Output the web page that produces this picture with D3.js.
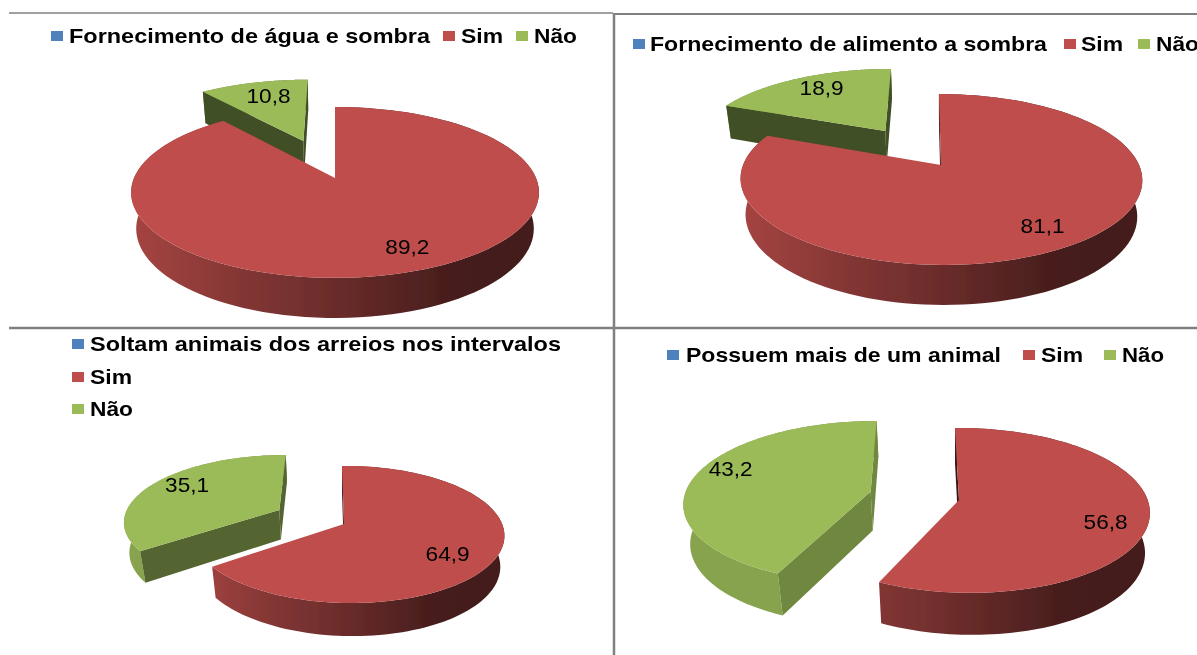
<!DOCTYPE html>
<html>
<head>
<meta charset="utf-8">
<script src="https://cdn.jsdelivr.net/npm/d3@7"></script>
<style>
  html, body { margin: 0; background: #fff; overflow: hidden; }
  text { font-family: "Liberation Sans", Arial, sans-serif; fill: #000; }
</style>
</head>
<body>
<svg id="chart"></svg>
<script>
'use strict';
// Values
var categories = ['Sim', 'Não'];
var titles = [
  'Fornecimento de água e sombra',
  'Fornecimento de alimento a sombra',
  'Soltam animais dos arreios nos intervalos',
  'Possuem mais de um animal'
];
var simValues = [89.2, 81.1, 64.9, 56.8];
var naoValues = [10.8, 18.9, 35.1, 43.2];

var blue = '#4f81bd';
var sliceColors = ['#be4e4c', '#9bbb59'];

// Perspective setup of each pie: apex, radii, vanishing terms, wall depth.
// greenH is the sideways vanishing term for the pulled out slice.
var pies = [
  { x0: 335, y0: 178, a: 201, b: 83, k: 0.169, h: 0, greenH: 0, s: 0, d: 36.8, explode: 0.51, cut: 0.42,
    nudge: [[11, -3], [6, 2]] },
  { x0: 941, y0: 165, a: 198, b: 83, k: 0.169, h: 0, greenH: 0, s: -2.4, d: 36.8, explode: 0.53, cut: 0.42,
    nudge: [[0, -2], [7, 0]] },
  { x0: 344, y0: 524, a: 154, b: 66.9, k: 0.153, h: -0.026, greenH: 0.012, s: -2.3, d: 30.8, explode: 0.48, cut: 0.54,
    nudge: [[-16, 3], [8, -4]] },
  { x0: 959, y0: 500, a: 183, b: 81, k: 0.127, h: -0.03, greenH: 0.012, s: -4.5, d: 40, explode: 0.495, cut: 0.72,
    nudge: [[-4, 7], [0, -10]] }
];

// Legend layout: [swatch x, text x, text width, text y] for title, Sim, Não
var legends = [
  [[51, 69, 361, 36], [443, 461, 42, 36], [516, 534, 43, 36]],
  [[633, 650, 397, 44], [1064, 1081, 42, 44], [1138, 1156, 43, 44]],
  [[72, 90, 471, 344], [72, 90, 42, 377], [72, 90, 43, 409]],
  [[667, 686, 315, 355], [1023, 1041, 42, 355], [1104, 1122, 42, 355]]
];

var canvasWidth = 1197;
var canvasHeight = 655;
var swatchSize = 11;
var labelRadius = 0.8;
var shrink = 0.025;

var svg = d3.select('#chart')
  .attr('width', canvasWidth)
  .attr('height', canvasHeight);
var defs = svg.append('defs');
defs.append('filter').attr('id', 'soft')
  .attr('x', 0).attr('y', 0).attr('width', 1).attr('height', 1)
  .append('feGaussianBlur').attr('stdDeviation', 0.45);

var root = svg.append('g').attr('filter', 'url(#soft)');
root.append('rect')
  .attr('width', canvasWidth).attr('height', canvasHeight).attr('fill', '#fff');

// Panel borders
var borderColor = '#808080';
[[9, 13, 613, 13, 1.5], [613, 14, canvasWidth, 14, 2], [9, 328, canvasWidth, 328, 2.5], [614, 13, 614, canvasHeight, 2.5]]
  .forEach(function(b) {
    root.append('line')
      .attr('x1', b[0]).attr('y1', b[1]).attr('x2', b[2]).attr('y2', b[3])
      .attr('stroke', borderColor).attr('stroke-width', b[4]);
  });

function shade(color, f) {
  var c = d3.rgb(color);
  return d3.rgb(c.r * f, c.g * f, c.b * f).formatHex();
}

// u, v on the pie plane (unit radius), z = 1 at the bottom of the wall
function project(p, h, u, v, z) {
  var w = 1 + p.k * v + h * u + shrink * z;
  return [p.x0 + (p.a * u + p.s * v) / w, p.y0 + (-p.b * v + p.d * z) / w];
}

var pieLayout = d3.pie().sort(null).value(function(d) { return d; });
var linePath = d3.line();

function drawPie(p, i) {
  var arcs = pieLayout([simValues[i], naoValues[i]]);
  // Green first: the red slice sits in front of its wall
  d3.range(arcs.length - 1, -1, -1).forEach(function(j) {
    var slice = arcs[j];
    var color = sliceColors[j];
    var mid = (slice.startAngle + slice.endAngle) / 2;
    var ou = j === 1 ? p.explode * Math.sin(mid) : 0;
    var ov = j === 1 ? p.explode * Math.cos(mid) : 0;
    var h = j === 1 ? p.greenH : p.h;

    function pt(r, angle, z) {
      return project(p, h, ou + r * Math.sin(angle), ov + r * Math.cos(angle), z);
    }
    var steps = d3.range(0, 121).map(function(t) {
      return slice.startAngle + (slice.endAngle - slice.startAngle) * t / 120;
    });

    // Outer wall, shaded left to right across the whole pie
    var gradId = 'wall' + i + '-' + j;
    var grad = defs.append('linearGradient').attr('id', gradId)
      .attr('gradientUnits', 'userSpaceOnUse')
      .attr('x1', p.x0 - p.a).attr('x2', p.x0 + p.a).attr('y1', 0).attr('y2', 0);
    [[0, 0.87], [0.25, 0.7], [0.5, 0.56], [0.8, 0.37], [1, 0.36]].forEach(function(s) {
      grad.append('stop').attr('offset', s[0]).attr('stop-color', shade(color, s[1]));
    });
    var wallPts = steps.map(function(a) { return pt(1, a, 0); })
      .concat(steps.slice().reverse().map(function(a) { return pt(1, a, 1); }));
    root.append('path').attr('d', linePath(wallPts) + 'Z').attr('fill', 'url(#' + gradId + ')');

    // Cut faces, only where they turn towards the viewer
    // (d3.polygonArea is positive for a clockwise ring on screen)
    [[slice.startAngle, 1], [slice.endAngle, -1]].forEach(function(face) {
      var quad = [pt(0, 0, 0), pt(1, face[0], 0), pt(1, face[0], 1), pt(0, 0, 1)];
      if (d3.polygonArea(quad) * face[1] > 0) {
        root.append('path').attr('d', linePath(quad) + 'Z')
          .attr('fill', shade(color, j === 1 ? p.cut : 0.3));
      }
    });

    // Top face
    var topPts = [pt(0, 0, 0)].concat(steps.map(function(a) { return pt(1, a, 0); }));
    root.append('path').attr('d', linePath(topPts) + 'Z').attr('fill', color);

    slice.labelPos = pt(labelRadius, mid, 0);
  });

  // Data labels go last, above every face
  arcs.forEach(function(slice, j) {
    root.append('text')
      .attr('x', slice.labelPos[0] + p.nudge[j][0]).attr('y', slice.labelPos[1] + p.nudge[j][1])
      .attr('dy', '0.36em')
      .attr('text-anchor', 'middle')
      .attr('font-size', 21)
      .attr('textLength', 44)
      .attr('lengthAdjust', 'spacingAndGlyphs')
      .text(String(slice.value).replace('.', ','));
  });
}

function drawLegend(layout, i) {
  var names = [titles[i]].concat(categories);
  var colors = [blue].concat(sliceColors);
  names.forEach(function(name, n) {
    var l = layout[n];
    root.append('rect')
      .attr('x', l[0]).attr('y', l[3] - 5)
      .attr('width', swatchSize + 1).attr('height', swatchSize - 1)
      .attr('fill', colors[n]);
    root.append('text')
      .attr('x', l[1]).attr('y', l[3])
      .attr('dy', '0.35em')
      .attr('font-size', 21)
      .attr('font-weight', 'bold')
      .attr('textLength', l[2])
      .attr('lengthAdjust', 'spacingAndGlyphs')
      .text(name);
  });
}

pies.forEach(drawPie);
legends.forEach(drawLegend);
</script>
</body>
</html>
